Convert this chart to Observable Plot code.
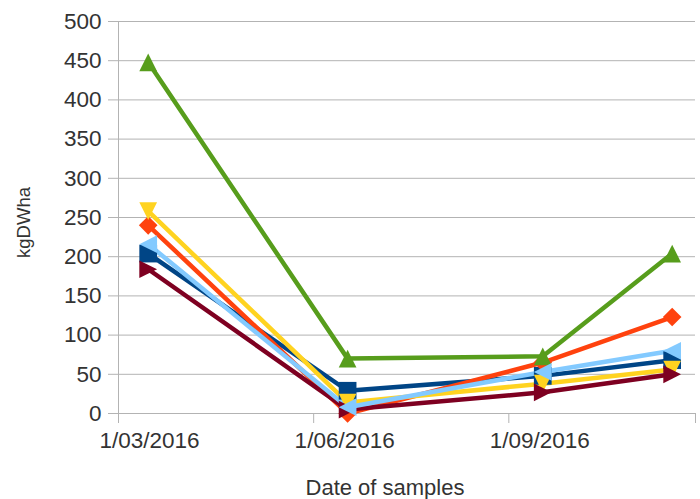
<!DOCTYPE html>
<html>
<head>
<meta charset="utf-8">
<script src="https://cdn.jsdelivr.net/npm/d3@7"></script>
<script src="https://cdn.jsdelivr.net/npm/@observablehq/plot@0.6"></script>
<style>
  html, body { margin: 0; padding: 0; background: #fff; }
  #chart { width: 700px; height: 499px; }
</style>
</head>
<body>
<div id="chart"></div>
<script>
// ---- Data ----
const sampleDates = ["2016-03-15", "2016-06-17", "2016-09-17", "2016-11-17"];
const seriesNames = ["S1", "S2", "S3", "S4", "S5", "S6"];
const seriesColors = ["#004586", "#ff420e", "#ffd320", "#579d1c", "#7e0021", "#83caff"];
const s1 = [204, 29, 48, 68];   // dark blue, square
const s2 = [240, 0, 65, 123];   // orange, diamond
const s3 = [258, 14, 38, 56];   // yellow, triangle down
const s4 = [448, 70, 73, 204];  // green, triangle up
const s5 = [184, 5, 27, 50];    // maroon, triangle right
const s6 = [216, 8, 53, 80];    // light blue, triangle left
const seriesValues = [s1, s2, s3, s4, s5, s6];
const xDomain = ["2016-03-01", "2016-11-28"];
const xTickDates = ["2016-03-01", "2016-06-01", "2016-09-01", "2016-11-28"];
const xTickLabels = ["1/03/2016", "1/06/2016", "1/09/2016", ""];
const yTicks = [0, 50, 100, 150, 200, 250, 300, 350, 400, 450, 500];
const xTitle = "Date of samples";
const yTitle = "kgDWha";

// ---- Symbols (LibreOffice style, filling a square box) ----
const half = s => Math.sqrt(s) / 2;
const symSquare = {draw(c, s) { const h = half(s); c.rect(-h, -h, 2 * h, 2 * h); }};
const symDiamond = {draw(c, s) { const h = half(s) * 1.05; c.moveTo(0, -h); c.lineTo(h, 0); c.lineTo(0, h); c.lineTo(-h, 0); c.closePath(); }};
const symDown = {draw(c, s) { const h = half(s); c.moveTo(-h, -h); c.lineTo(h, -h); c.lineTo(0, h); c.closePath(); }};
const symUp = {draw(c, s) { const h = half(s); c.moveTo(-h, h); c.lineTo(h, h); c.lineTo(0, -h); c.closePath(); }};
const symRight = {draw(c, s) { const h = half(s); c.moveTo(-h, -h); c.lineTo(h, 0); c.lineTo(-h, h); c.closePath(); }};
const symLeft = {draw(c, s) { const h = half(s); c.moveTo(h, -h); c.lineTo(-h, 0); c.lineTo(h, h); c.closePath(); }};
const seriesSymbols = [symSquare, symDiamond, symDown, symUp, symRight, symLeft];

const parse = d3.utcParse("%Y-%m-%d");
const tickData = xTickDates.map((d, i) => ({date: parse(d), label: xTickLabels[i]}));

const marks = [
  Plot.gridY(yTicks, {stroke: "#b3b3b3", strokeOpacity: 1, strokeWidth: 1}),
  Plot.axisY(yTicks, {tickSize: 10, tickPadding: 7, stroke: "#b3b3b3", fontSize: 22.5, fill: "#333", tickFormat: d => d, label: null}),
  Plot.ruleX([parse(xTickDates[0])], {stroke: "#b3b3b3"}),
  Plot.ruleY([0], {stroke: "#b3b3b3"}),
  Plot.axisX(tickData.map(d => d.date), {tickSize: 10, stroke: "#b3b3b3", tickFormat: () => "", label: null}),
  Plot.text(tickData, {x: "date", frameAnchor: "bottom", text: "label", dx: 31, dy: 27, fontSize: 22.5, fill: "#333", lineAnchor: "middle", textAnchor: "middle"}),
  Plot.text([xTitle], {frameAnchor: "bottom", dx: -22, dy: 74, fontSize: 22, fill: "#333", lineAnchor: "middle", textAnchor: "middle"}),
  Plot.text([yTitle], {frameAnchor: "left", dx: -94, dy: 5, rotate: -90, fontSize: 18.5, fill: "#333", lineAnchor: "middle", textAnchor: "middle"})
];

seriesValues.forEach((vals, i) => {
  const rows = vals.map((v, j) => ({date: parse(sampleDates[j]), value: v}));
  marks.push(Plot.line(rows, {x: "date", y: "value", stroke: seriesColors[i], strokeWidth: 4.5, strokeLinejoin: "round"}));
});
seriesValues.forEach((vals, i) => {
  const rows = vals.map((v, j) => ({date: parse(sampleDates[j]), value: v}));
  marks.push(Plot.dot(rows, {x: "date", y: "value", fill: seriesColors[i], stroke: "none", symbol: seriesSymbols[i], r: 10}));
});

const chart = Plot.plot({
  width: 700,
  height: 499,
  marginLeft: 118,
  marginRight: 5,
  marginTop: 21,
  marginBottom: 86,
  style: {fontFamily: "'Liberation Sans', Arial, sans-serif", background: "#fff"},
  x: {type: "utc", domain: xDomain.map(parse), axis: null, label: null},
  y: {type: "linear", domain: [0, 500], axis: null, label: null},
  marks
});
document.getElementById("chart").appendChild(chart);
</script>
</body>
</html>
